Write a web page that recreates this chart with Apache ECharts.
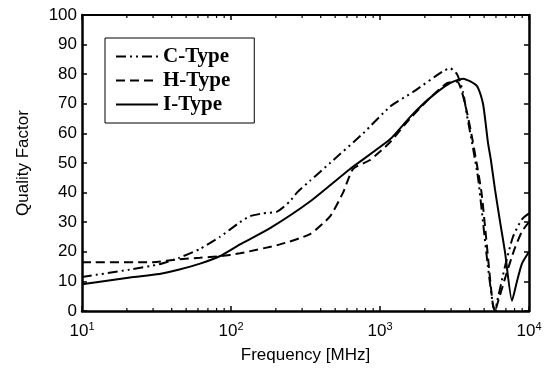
<!DOCTYPE html>
<html>
<head>
<meta charset="utf-8">
<script src="https://cdn.jsdelivr.net/npm/echarts@6/dist/echarts.min.js"></script>
<style>html,body{margin:0;padding:0;background:#fff;}#c{width:557px;height:369px;}</style>
</head>
<body>
<div id="c"></div>
<script>
// Frequency in MHz, Quality factor
const cTypeFreq = [10, 21, 33, 45, 62, 84, 115, 134, 164, 204, 248, 277, 339, 462, 770, 1167, 1664, 2649, 2951, 3289, 3606, 3837, 4210, 4550, 4914, 5300, 5730, 5915, 6100, 6900, 7800, 8970, 10000];
const cTypeQ    = [11.5, 14, 15.8, 18, 21, 25, 30, 32, 33, 33.6, 37, 40, 44, 50, 60, 69, 74, 81, 82, 80, 74, 66, 55, 45, 30, 15, 2, 0, 3, 15, 25, 31, 33];

const hTypeFreq = [10, 30, 45, 62, 84, 115, 213, 339, 462, 565, 660, 857, 1167, 1589, 2166, 2818, 3289, 3500, 3800, 4100, 4450, 4800, 5150, 5500, 5730, 5915, 6100, 7000, 8000, 9000, 10000];
const hTypeQ    = [16.5, 16.5, 17.5, 18, 18.5, 19.5, 22.5, 26, 32, 40, 48, 51, 57, 65, 72, 77, 77.5, 75, 68, 60, 50, 40, 25, 10, 2, 0, 2, 12, 21, 27, 30];

const iTypeFreq = [10, 21, 33, 45, 62, 84, 115, 183, 339, 630, 1167, 1589, 2166, 2951, 3606, 4477, 4914, 5300, 5550, 5915, 6400, 6900, 7690, 8300, 8970, 10000];
const iTypeQ    = [9, 11.3, 12.5, 14, 16, 18.5, 22.5, 28, 37, 48, 58, 65.5, 72, 77, 78.5, 76, 70, 57, 51, 41, 30, 20, 3.5, 10, 16, 20];

const xMajorTicks = [10, 100, 1000, 10000];
const xMinorTicks = [20,30,40,50,60,70,80,90,200,300,400,500,600,700,800,900,2000,3000,4000,5000,6000,7000,8000,9000];
const yTicks = [0,10,20,30,40,50,60,70,80,90,100];

const seriesNames = ['C-Type', 'H-Type', 'I-Type'];

function pairs(f, q) { return f.map((v, i) => [v, q[i]]); }

const chart = echarts.init(document.getElementById('c'), null, {renderer: 'canvas'});
const font = 'Liberation Sans, Arial, Helvetica, sans-serif';
const lineW = 2;

chart.setOption({
  animation: false,
  backgroundColor: '#fff',
  grid: {left: 82, right: 28, top: 15, bottom: 57, show: false},
  legend: {
    data: seriesNames,
    orient: 'vertical',
    left: 105, top: 38,
    padding: [8, 24, 8, 10],
    itemWidth: 42, itemHeight: 14, itemGap: 3,
    backgroundColor: '#fff',
    borderColor: '#000', borderWidth: 1,
    itemStyle: {opacity: 0},
    lineStyle: {width: 2},
    textStyle: {fontFamily: 'Liberation Serif, Times New Roman, serif', fontWeight: 'bold', fontSize: 21, color: '#000'}
  },
  xAxis: [{
    type: 'log', logBase: 10, min: 10, max: 10000, position: 'bottom',
    name: 'Frequency [MHz]', nameLocation: 'middle', nameGap: 36,
    nameTextStyle: {fontFamily: font, fontSize: 17, color: '#000'},
    axisLine: {show: true, onZero: false, lineStyle: {color: '#000', width: 2.5}},
    axisTick: {show: true, inside: true, length: 5, lineStyle: {color: '#000', width: 1.5}},
    splitLine: {show: false},
    axisLabel: {
      margin: 10, color: '#000',
      formatter: function (v) { return '{b|10}{s|' + Math.round(Math.log10(v)) + '}'; },
      rich: {
        b: {fontFamily: font, fontSize: 17, lineHeight: 20, color: '#000'},
        s: {fontFamily: font, fontSize: 11, lineHeight: 11, verticalAlign: 'top', color: '#000'}
      }
    }
  }, {
    type: 'log', logBase: 10, min: 10, max: 10000, position: 'top',
    axisLine: {show: true, onZero: false, lineStyle: {color: '#000', width: 2}},
    axisTick: {show: true, inside: true, length: 5, lineStyle: {color: '#000', width: 1.5}},
    axisLabel: {show: false}, splitLine: {show: false}
  }],
  yAxis: [{
    type: 'value', min: 0, max: 100, interval: 10, position: 'left',
    name: 'Quality Factor', nameLocation: 'middle', nameGap: 50,
    nameTextStyle: {fontFamily: font, fontSize: 17, color: '#000'},
    axisLine: {show: true, onZero: false, lineStyle: {color: '#000', width: 2.5}},
    axisTick: {show: true, inside: true, length: 5, lineStyle: {color: '#000', width: 1.5}},
    splitLine: {show: false},
    axisLabel: {margin: 5, fontFamily: font, fontSize: 17, color: '#000'}
  }, {
    type: 'value', min: 0, max: 100, interval: 10, position: 'right',
    axisLine: {show: true, onZero: false, lineStyle: {color: '#000', width: 2.5}},
    axisTick: {show: true, inside: true, length: 5, lineStyle: {color: '#000', width: 1.5}},
    axisLabel: {show: false}, splitLine: {show: false}
  }],
  series: [{
    name: 'C-Type', type: 'line', symbol: 'none', smooth: 0.2,
    data: pairs(cTypeFreq, cTypeQ),
    lineStyle: {color: '#000', width: lineW, type: [10, 4, 2, 4, 2, 4]},
    itemStyle: {color: '#000'}
  }, {
    name: 'H-Type', type: 'line', symbol: 'none', smooth: 0.2,
    data: pairs(hTypeFreq, hTypeQ),
    lineStyle: {color: '#000', width: lineW, type: [9, 5]},
    itemStyle: {color: '#000'}
  }, {
    name: 'I-Type', type: 'line', symbol: 'none', smooth: 0.2,
    data: pairs(iTypeFreq, iTypeQ),
    lineStyle: {color: '#000', width: lineW},
    itemStyle: {color: '#000'}
  }, {
    type: 'custom', silent: true, clip: false, z: 5,
    data: xMinorTicks.map(v => [v, 0]),
    renderItem: function (params, api) {
      const b = api.coord([api.value(0), 0]);
      const t = api.coord([api.value(0), 100]);
      return {type: 'group', children: [
        {type: 'line', shape: {x1: b[0], y1: b[1], x2: b[0], y2: b[1] - 3}, style: {stroke: '#000', lineWidth: 1.2}},
        {type: 'line', shape: {x1: t[0], y1: t[1], x2: t[0], y2: t[1] + 3}, style: {stroke: '#000', lineWidth: 1.2}}
      ]};
    }
  }]
});
</script>
</body>
</html>
